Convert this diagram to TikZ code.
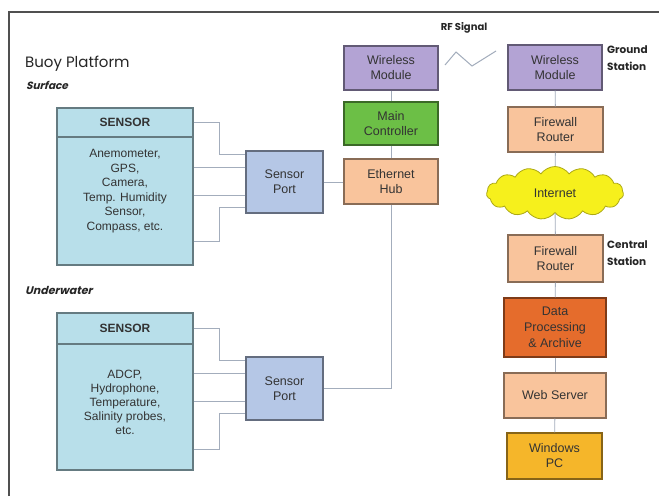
\documentclass[tikz,border=0pt]{standalone}
\usepackage{fontspec}
\setmainfont{Liberation Sans}
\newfontfamily\lblfont{Poppins}
\newfontfamily\lblslant[FakeSlant=0.25]{Poppins}
\usetikzlibrary{shapes.symbols}

\definecolor{sensorblue}{HTML}{B8DFEA}
\definecolor{portblue}{HTML}{B5C7E6}
\definecolor{wireless}{HTML}{B3A3D4}
\definecolor{ctrlgreen}{HTML}{6CBF46}
\definecolor{peach}{HTML}{F9C49C}
\definecolor{procorange}{HTML}{E56C2C}
\definecolor{pcgold}{HTML}{F5B62A}
\definecolor{netyellow}{HTML}{F6F01C}
\definecolor{wiregray}{HTML}{A3ADBC}
\definecolor{framegray}{HTML}{505050}

\tikzset{
  unit/.style={draw=#1!55!black, fill=#1, line width=1.1pt, align=center,
    font=\fontsize{12.5}{15}\selectfont, text=black!80, inner sep=0pt},
  wire/.style={draw=wiregray, line width=0.9pt},
  lbl/.style={font=\lblfont\bfseries\fontsize{10.5}{17}\selectfont, text=black!85, align=left, anchor=west, inner sep=0pt},
}

\begin{document}
\begin{tikzpicture}[x=1pt,y=-1pt]
  \useasboundingbox (0,0) rectangle (659,496);
  \fill[white] (0,0) rectangle (659,496);

  % buoy platform frame
  \coordinate (fbl) at (9,496);
  \coordinate (ftl) at (9,12);
  \coordinate (ftr) at (659,12);
  \draw[framegray,line width=1.3pt] (fbl) -- (ftl) -- (ftr);

  \node[lbl,font=\lblfont\fontsize{15}{17}\selectfont] (buoy) at (25,64) {Buoy Platform};
  \node[lbl,font=\lblslant\bfseries\fontsize{10.5}{12}\selectfont] (surf) at (26,85) {Surface};
  \node[lbl,font=\lblslant\bfseries\fontsize{11}{12}\selectfont] (under) at (25,290) {Underwater};

  % sensors
  \node[unit=sensorblue,minimum width=136pt,minimum height=29pt,font=\bfseries\fontsize{12}{14}\selectfont] (hd1) at (125,122.5) {SENSOR};
  \node[unit=sensorblue,minimum width=136pt,minimum height=128pt] (bd1) at (125,201) {};
  \node[unit=sensorblue,draw=none,font=\fontsize{12}{14.5}\selectfont] (tx1) at (125,191)
    {Anemometer,\\GPS,\\Camera,\\Temp. Humidity\\Sensor,\\Compass, etc.};
  \node[unit=sensorblue,minimum width=136pt,minimum height=31pt,font=\bfseries\fontsize{12}{14}\selectfont] (hd2) at (125,328.5) {SENSOR};
  \node[unit=sensorblue,minimum width=136pt,minimum height=126pt] (bd2) at (125,407) {};
  \node[unit=sensorblue,draw=none,font=\fontsize{12}{14}\selectfont] (tx2) at (125,402)
    {ADCP,\\Hydrophone,\\Temperature,\\Salinity probes,\\etc.};

  % sensor ports
  \node[unit=portblue,minimum width=77pt,minimum height=62pt] (p1) at (284.5,182) {Sensor\\Port};
  \node[unit=portblue,minimum width=77pt,minimum height=63pt] (p2) at (284.5,388.5) {Sensor\\Port};

  \foreach \hd/\bd/\p/\lo in {hd1/bd1/p1/24, hd2/bd2/p2/21} {
    \draw[wire] (\hd.east) -- ++(26,0) |- ([yshift=-4pt]\p.north west);
    \draw[wire] ([yshift=-17pt]\p.north west) -- ([yshift=-17pt]\p.north west -| \bd.east);
    \draw[wire] ([yshift=-45pt]\p.north west) -- ([yshift=-45pt]\p.north west -| \bd.east);
    \draw[wire] ([yshift=\lo pt]\bd.south east) -- ++(26,0) |- ([yshift=-57pt]\p.north west);
  }

  % buoy controller column
  \node[unit=wireless,minimum width=94pt,minimum height=44pt] (wm1) at (391,68) {Wireless\\Module};
  \node[unit=ctrlgreen,minimum width=94pt,minimum height=43pt] (mc) at (391,123.5) {Main\\Controller};
  \node[unit=peach,minimum width=94pt,minimum height=45pt] (hub) at (391,181.5) {Ethernet\\Hub};
  \draw[wire] (wm1) -- (mc);
  \draw[wire] (mc) -- (hub);
  \draw[wire] (p1.east) -- (p1.east -| hub.west);
  \draw[wire] (hub.south) |- (p2.east);

  % RF link
  \node[font=\lblfont\bfseries\fontsize{10}{12}\selectfont,text=black!85] (rf) at (464,28) {RF Signal};
  \coordinate (z0) at (445,65);
  \coordinate (z1) at (456,52);
  \coordinate (z2) at (472,66);
  \coordinate (z3) at (496,51);
  \draw[wire,line width=1pt] (z0) -- (z1) -- (z2) -- (z3);

  % ground and central station column
  \node[unit=wireless,minimum width=94pt,minimum height=45pt] (wm2) at (555,67.5) {Wireless\\Module};
  \node[unit=peach,minimum width=95pt,minimum height=45pt] (fr1) at (555.5,129.5) {Firewall\\Router};
  \node[cloud,cloud puffs=15,cloud puff arc=110,aspect=2.6,draw=netyellow!70!black,fill=netyellow,
    line width=0.8pt,minimum width=137pt,minimum height=53pt,inner sep=0pt,
    font=\fontsize{12.5}{14}\selectfont,text=black!80] (net) at (555,193) {Internet};
  \node[unit=peach,minimum width=95pt,minimum height=47pt] (fr2) at (555.5,258.5) {Firewall\\Router};
  \node[unit=procorange,minimum width=102pt,minimum height=59pt,font=\fontsize{12.5}{16}\selectfont] (dp) at (555,327.5) {Data\\Processing\\\& Archive};
  \node[unit=peach,minimum width=102pt,minimum height=45pt] (ws) at (555,395.5) {Web Server};
  \node[unit=pcgold,minimum width=95pt,minimum height=46pt] (pc) at (554.5,456) {Windows\\PC};
  \foreach \a/\b in {wm2/fr1, fr1/net, net/fr2, fr2/dp, dp/ws, ws/pc}
    \draw[wire] (\a) -- (\b);

  \node[lbl] (gs) at (607,58.5) {Ground\\Station};
  \node[lbl] (cs) at (607,253.5) {Central\\Station};
\end{tikzpicture}
\end{document}
